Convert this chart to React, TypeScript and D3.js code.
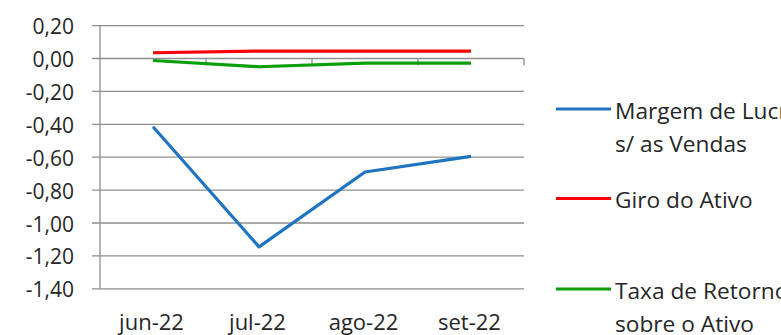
import React from "react";
import * as d3 from "d3";

const categories = ["jun-22", "jul-22", "ago-22", "set-22"];
const margemValues = [-0.415, -1.145, -0.69, -0.595];
const giroValues = [0.035, 0.045, 0.045, 0.045];
const taxaValues = [-0.012, -0.05, -0.028, -0.028];
const yTicks = [0.2, 0, -0.2, -0.4, -0.6, -0.8, -1.0, -1.2, -1.4];

const seriesList = [
  { name: ["Margem de Lucro", "s/ as Vendas"], values: margemValues, color: "#1F74C2" },
  { name: ["Giro do Ativo"], values: giroValues, color: "#FF0000" },
  { name: ["Taxa de Retorno", "sobre o Ativo"], values: taxaValues, color: "#0A9E0A" },
];

const W = 781;
const H = 335;
const plotLeft = 100;
const plotRight = 524;
const plotTop = 25.6;
const plotBottom = 288.8;

export default function App() {
  const x = d3.scaleBand<string>().domain(categories).range([plotLeft, plotRight]).padding(0);
  const y = d3.scaleLinear().domain([-1.4, 0.2]).range([plotBottom, plotTop]);
  const fmt = (v: number) => d3.format(".2f")(v).replace("−", "-").replace(".", ",");
  const line = d3
    .line<number>()
    .x((_, i) => (x(categories[i]) as number) + x.bandwidth() / 2)
    .y((d) => y(d));
  const font = "'Open Sans', 'Noto Sans', sans-serif";
  const legendY = [109, 198.5, 289];
  const lineGap = 33;
  const boundaries = categories.map((c) => (x(c) as number) + x.bandwidth());
  const textColor = "#262626";
  return (
    <svg
      width={W}
      height={H}
      style={{ position: "absolute", left: 0, top: 0, background: "#fff" }}
      fontFamily={font}
    >
      {yTicks.map((t) => (
        <g key={t}>
          <line x1={plotLeft - 8} x2={plotRight} y1={y(t)} y2={y(t)} stroke="#8E8E8E" strokeWidth={1.3} />
          <text x={74} y={y(t) + 8.5} textAnchor="end" fontSize={21} fill={textColor}>
            {fmt(t)}
          </text>
        </g>
      ))}
      <line x1={plotLeft} x2={plotLeft} y1={plotTop} y2={plotBottom} stroke="#8E8E8E" strokeWidth={1.3} />
      {boundaries.map((b, i) => (
        <line key={i} x1={b} x2={b} y1={y(0)} y2={y(0) + 7} stroke="#8E8E8E" strokeWidth={1.3} />
      ))}
      {categories.map((c) => (
        <text
          key={c}
          x={(x(c) as number) + x.bandwidth() / 2 - 1.5}
          y={330}
          textAnchor="middle"
          fontSize={22}
          fill={textColor}
        >
          {c}
        </text>
      ))}
      {seriesList.map((s) => (
        <path
          key={s.name[0]}
          d={line(s.values) || ""}
          fill="none"
          stroke={s.color}
          strokeWidth={3.2}
          strokeLinejoin="round"
        />
      ))}
      {seriesList.map((s, i) => (
        <g key={"l" + i}>
          <line x1={556} x2={611} y1={legendY[i]} y2={legendY[i]} stroke={s.color} strokeWidth={3.2} />
          {s.name.map((n, j) => (
            <text key={j} x={615} y={legendY[i] + 9.5 + j * lineGap} fontSize={22.7} fill={textColor}>
              {n}
            </text>
          ))}
        </g>
      ))}
    </svg>
  );
}
